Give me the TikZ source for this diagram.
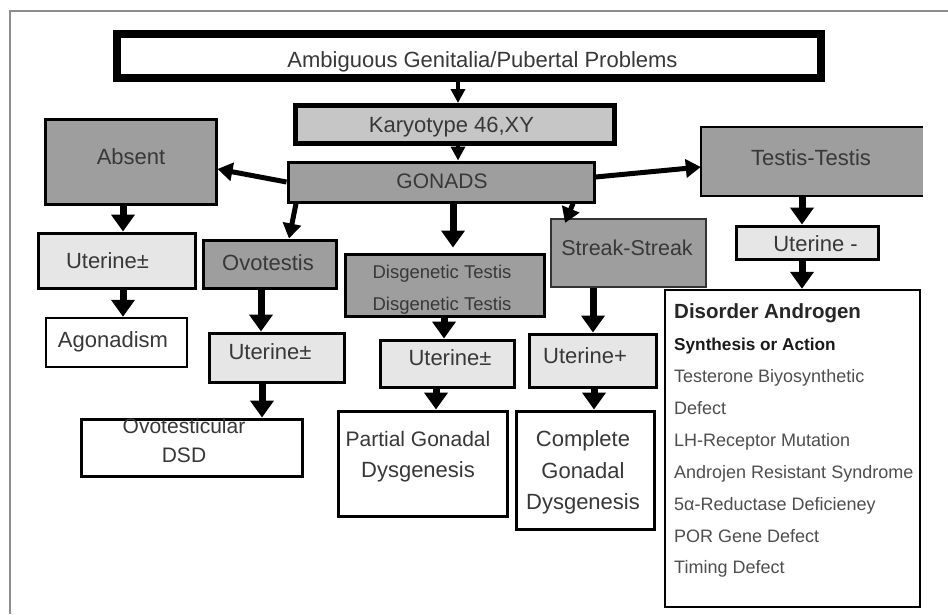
\documentclass[tikz,border=0pt]{standalone}
\usepackage{fontspec}
\setmainfont{Liberation Sans}
\usetikzlibrary{arrows.meta}
\definecolor{midgray}{HTML}{9E9E9E}
\definecolor{karygray}{HTML}{C6C6C6}
\definecolor{utgray}{HTML}{E6E6E6}
\definecolor{txtgray}{HTML}{383838}
\definecolor{framegray}{HTML}{8C8C8C}
\definecolor{listgray}{HTML}{4E4E4E}
\begin{document}
\begin{tikzpicture}[x=1pt,y=-1pt,
  box/.style={draw=black, line width=3pt, inner sep=0pt, rectangle},
  gbox/.style={box, fill=midgray},
  ubox/.style={box, fill=utgray},
  wbox/.style={box, fill=white},
  txt/.style={text=txtgray, font=\fontsize{22}{26}\selectfont, inner sep=0pt, anchor=base},
  smalltxt/.style={txt, font=\fontsize{18.5}{22}\selectfont},
  listtxt/.style={text=listgray, font=\fontsize{18}{22}\selectfont, inner sep=0pt, anchor=base west},
  arr/.style={draw=black, line width=7pt, -{Triangle[width=23pt,length=17pt]}},
  harr/.style={draw=black, line width=5pt, -{Triangle[width=18pt,length=15pt]}},
  sarr/.style={draw=black, line width=4pt, -{Triangle[width=14pt,length=14pt]}}
]
\useasboundingbox (0,0) rectangle (948,614);
% frame
\draw[framegray, line width=2pt] (9.5,614) -- (9.5,10.5) -- (948,10.5);

% boxes
\node[wbox, line width=8pt, minimum width=704pt, minimum height=44pt] (top) at (469,56) {};
\node[box, line width=5pt, fill=karygray, minimum width=319pt, minimum height=38pt] (kary) at (455,124.5) {};
\node[gbox, minimum width=306pt, minimum height=40pt] (gon) at (441,182) {};
\node[gbox, minimum width=171pt, minimum height=85pt] (absent) at (130.5,161.5) {};
\node[rectangle, fill=midgray, inner sep=0pt, minimum width=222pt, minimum height=69pt] (testis) at (812,161.5) {};
\draw[black, line width=2.5pt] (testis.north east) -- (testis.north west) -- (testis.south west) -- (testis.south east);
\node[gbox, minimum width=133pt, minimum height=48pt] (ovo) at (269.5,264) {};
\node[ubox, minimum width=157pt, minimum height=55pt] (utl) at (116.5,260.5) {};
\node[wbox, line width=2.5pt, minimum width=141pt, minimum height=49pt] (agon) at (116.5,342.5) {};
\node[ubox, minimum width=135pt, minimum height=49pt] (utmid) at (276.5,357.5) {};
\node[wbox, minimum width=221pt, minimum height=57pt] (odsd) at (191.5,447.5) {};
\node[gbox, minimum width=199pt, minimum height=62pt] (dis) at (444.5,285) {};
\node[gbox, line width=1.5pt, draw=black!80, minimum width=155pt, minimum height=68pt] (streak) at (628.5,253) {};
\node[ubox, minimum width=134pt, minimum height=47pt] (utd) at (447,363.5) {};
\node[ubox, minimum width=127pt, minimum height=53pt] (utp) at (592.5,360.5) {};
\node[ubox, minimum width=142pt, minimum height=33pt] (utm) at (807,242.5) {};
\node[wbox, minimum width=169pt, minimum height=105pt] (pgd) at (422.5,463.5) {};
\node[wbox, minimum width=138pt, minimum height=118pt] (cgd) at (585,470) {};
\node[wbox, line width=2.5pt, minimum width=255pt, minimum height=317pt] (dao) at (792.5,448.5) {};

% texts
\node[txt] (t-top) at (482.5,67) {Ambiguous Genitalia/Pubertal Problems};
\node[txt] (t-kary) at (451.5,132) {Karyotype 46,XY};
\node[txt, font=\fontsize{21}{25}\selectfont] (t-gon) at (442,188) {GONADS};
\node[txt] (t-absent) at (131,164) {Absent};
\node[txt] (t-testis) at (811,165) {Testis-Testis};
\node[txt] (t-ovo) at (268,270) {Ovotestis};
\node[txt] (t-utl) at (107.5,268) {Uterine±};
\node[txt] (t-agon) at (113,347) {Agonadism};
\node[txt] (t-utmid) at (270,359) {Uterine±};
\node[txt, font=\fontsize{21}{25}\selectfont] (t-odsd1) at (184,433) {Ovotesticular};
\node[txt, font=\fontsize{21}{25}\selectfont] (t-odsd2) at (184,462) {DSD};
\node[smalltxt] (t-dis1) at (442,278) {Disgenetic Testis};
\node[smalltxt] (t-dis2) at (442,310) {Disgenetic Testis};
\node[txt, font=\fontsize{21.5}{25}\selectfont] (t-streak) at (627,255) {Streak-Streak};
\node[txt] (t-utd) at (450,365) {Uterine±};
\node[txt] (t-utp) at (585,363) {Uterine+};
\node[txt] (t-utm) at (815.5,251) {Uterine -};
\node[txt, font=\fontsize{21}{25}\selectfont] (t-pgd1) at (418,446) {Partial Gonadal};
\node[txt] (t-pgd2) at (418,477) {Dysgenesis};
\node[txt] (t-cgd1) at (583,446) {Complete};
\node[txt] (t-cgd2) at (583,478) {Gonadal};
\node[txt] (t-cgd3) at (583,509) {Dysgenesis};
\node[listtxt, text=black!85, font=\bfseries\fontsize{20.5}{24}\selectfont] (d1) at (674,318) {Disorder Androgen};
\node[listtxt, text=black!90, font=\bfseries\fontsize{17.2}{21}\selectfont] (d2) at (674,350) {Synthesis or Action};
\node[listtxt] (d3) at (674,382) {Testerone Biyosynthetic};
\node[listtxt] (d4) at (674,414) {Defect};
\node[listtxt] (d5) at (674,446) {LH-Receptor Mutation};
\node[listtxt] (d6) at (674,478) {Androjen Resistant Syndrome};
\node[listtxt] (d7) at (674,510) {5α-Reductase Deficieney};
\node[listtxt] (d8) at (674,542) {POR Gene Defect};
\node[listtxt] (d9) at (674,573) {Timing Defect};

% connectors
\draw[sarr] (top.south -| 458,0) -- (kary.north -| 458,0);
\draw[sarr] (kary.south -| 458,0) -- (gon.north -| 458,0);
\draw[harr] (gon.west |- 0,182) -- (absent.east |- 0,169);
\draw[harr] (gon.east |- 0,177) -- (testis.west |- 0,167);
\draw[harr] (gon.south -| 296,0) -- (ovo.north -| 289,0);
\draw[arr, shorten >=5pt] (gon.south -| 453,0) -- (dis.north -| 453,0);
\draw[harr, shorten >=-5pt] (gon.south -| 573,0) -- (streak.north -| 567,0);
\draw[arr] (testis.south -| 802,0) -- (utm.north -| 802,0);
\draw[arr] (utm.south -| 802,0) -- (dao.north -| 802,0);
\draw[arr] (absent.south -| 123,0) -- (utl.north -| 123,0);
\draw[arr] (utl.south -| 123,0) -- (agon.north -| 123,0);
\draw[arr] (ovo.south -| 261,0) -- (utmid.north -| 261,0);
\draw[arr] (utmid.south -| 262,0) -- (odsd.north -| 262,0);
\draw[arr] (dis.south -| 444,0) -- (utd.north -| 444,0);
\draw[arr] (utd.south -| 436,0) -- (pgd.north -| 436,0);
\draw[arr] (streak.south -| 593,0) -- (utp.north -| 593,0);
\draw[arr] (utp.south -| 594,0) -- (cgd.north -| 594,0);
\end{tikzpicture}
\end{document}
